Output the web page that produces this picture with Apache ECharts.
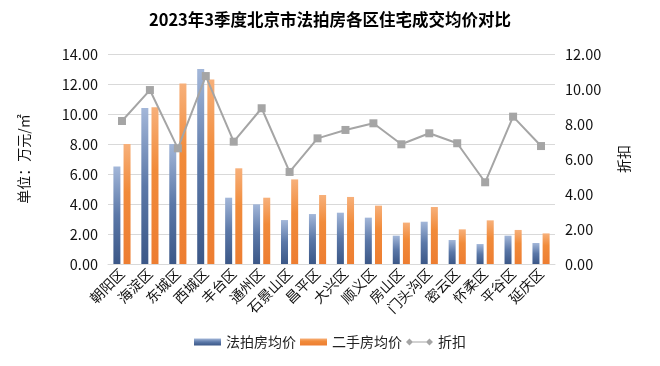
<!DOCTYPE html>
<html><head><meta charset="utf-8">
<script src="https://cdn.jsdelivr.net/npm/echarts@6/dist/echarts.min.js"></script>
<style>html,body{margin:0;padding:0;background:#fff}#c{width:660px;height:366px}</style>
</head><body><div id="c"></div>
<script>
const categories = ['朝阳区','海淀区','东城区','西城区','丰台区','通州区','石景山区','昌平区','大兴区','顺义区','房山区','门头沟区','密云区','怀柔区','平谷区','延庆区'];
const auctionPrice = [6.5,10.4,8.0,13.0,4.42,3.98,2.93,3.33,3.42,3.09,1.89,2.82,1.6,1.33,1.89,1.4];
const resalePrice = [8.0,10.45,12.04,12.3,6.38,4.42,5.64,4.6,4.47,3.89,2.76,3.8,2.31,2.91,2.27,2.04];
const discount = [8.17,9.94,6.61,10.74,6.99,8.9,5.26,7.18,7.66,8.04,6.84,7.47,6.9,4.67,8.42,6.74];
const leftTicks = {min:0,max:14,interval:2};
const rightTicks = {min:0,max:12,interval:2};

const chart = echarts.init(document.getElementById('c'), null, {renderer:'canvas'});
const font = '"Microsoft YaHei","Noto Sans CJK SC",sans-serif';
const lineIcon = 'path://M0,3.5L3.5,0L7,3.5L3.5,7ZM3.5,3L23.5,3L23.5,4L3.5,4ZM20,3.5L23.5,0L27,3.5L23.5,7Z';
chart.setOption({
  animation:false,
  textStyle:{fontFamily:font},
  title:{text:'2023年3季度北京市法拍房各区住宅成交均价对比',left:'center',top:6,
    textStyle:{fontSize:16.5,fontWeight:'bold',color:'#000',fontFamily:font}},
  grid:{left:108,right:105,top:54,bottom:102},
  legend:{bottom:12,left:'center',itemWidth:27,itemHeight:7,itemGap:4,
    textStyle:{fontSize:14,color:'#222',fontFamily:font},
    data:[{name:'法拍房均价',icon:'rect'},{name:'二手房均价',icon:'rect'},{name:'折扣',icon:lineIcon}]},
  xAxis:{type:'category',data:categories,
    axisLine:{lineStyle:{color:'#d9d9d9'}},axisTick:{show:false},
    axisLabel:{rotate:45,interval:0,fontSize:14,color:'#111',margin:7}},
  yAxis:[
    {type:'value',min:leftTicks.min,max:leftTicks.max,interval:leftTicks.interval,
     name:'单位：万元/㎡',nameLocation:'middle',nameRotate:90,nameGap:77,
     nameTextStyle:{fontSize:14,color:'#111'},
     axisLabel:{formatter:v=>v.toFixed(2),fontSize:14.5,color:'#111',margin:10},
     splitLine:{lineStyle:{color:'#d9d9d9'}},axisLine:{show:false},axisTick:{show:false}},
    {type:'value',min:rightTicks.min,max:rightTicks.max,interval:rightTicks.interval,
     name:'折扣',nameLocation:'middle',nameRotate:90,nameGap:62,
     nameTextStyle:{fontSize:14,color:'#111'},
     axisLabel:{formatter:v=>v.toFixed(2),fontSize:14.5,color:'#111',margin:10},
     splitLine:{show:false},axisLine:{show:false},axisTick:{show:false}}
  ],
  series:[
    {name:'法拍房均价',type:'bar',data:auctionPrice,barWidth:7,barGap:'45%',
     itemStyle:{color:new echarts.graphic.LinearGradient(0,0,0,1,[{offset:0,color:'#a3b7d9'},{offset:0.5,color:'#5b78a8'},{offset:1,color:'#3b5787'}])}},
    {name:'二手房均价',type:'bar',data:resalePrice,barWidth:7,
     itemStyle:{color:new echarts.graphic.LinearGradient(0,0,0,1,[{offset:0,color:'#f7b07a'},{offset:0.4,color:'#f18b3a'},{offset:1,color:'#ed7d31'}])}},
    {name:'折扣',type:'line',yAxisIndex:1,data:discount,symbol:'rect',symbolSize:8,
     lineStyle:{color:'#a5a5a5',width:2},itemStyle:{color:'#a5a5a5'}}
  ]
});
</script></body></html>
